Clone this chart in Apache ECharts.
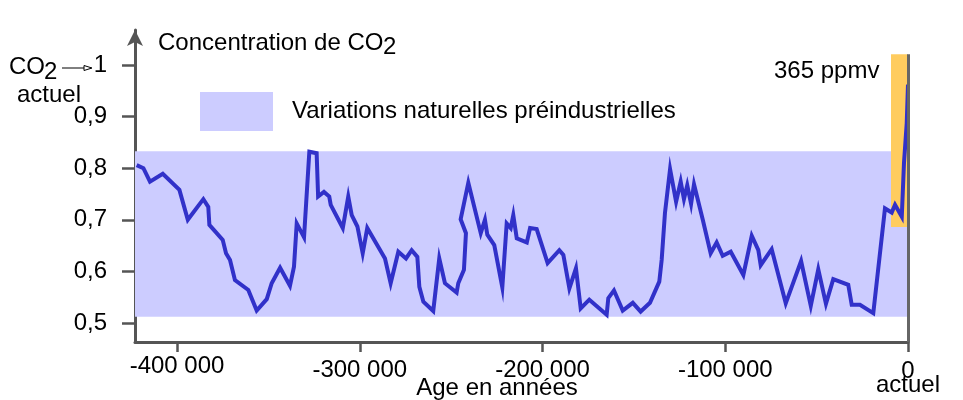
<!DOCTYPE html>
<html>
<head>
<meta charset="utf-8">
<script src="https://cdn.jsdelivr.net/npm/echarts@6/dist/echarts.min.js"></script>
<style>html,body{margin:0;padding:0;background:#fff}#c{width:963px;height:400px}</style>
</head>
<body>
<div id="c"></div>
<script>
// Age (years, negative = before present)
const ages = [
  -422100, -418400, -414800, -407800, -398700, -394100, -385600, -382900, -382300, -375000,
  -373200, -371000, -368300, -361000, -356400, -350900, -348200, -343600, -338200, -336000,
  -334500, -330500, -327600, -323600, -322800, -319600, -316700, -315900, -309300, -306300,
  -304400, -301300, -298400, -295900, -286200, -283100, -278900, -274700, -271600, -268500,
  -267400, -265200, -259800, -256500, -253400, -247000, -246100, -243000, -241900, -244800,
  -240600, -233800, -231500, -230200, -226400, -222000, -219600, -217400, -216000, -214100,
  -208600, -206800, -203200, -197200, -190800, -188600, -185300, -181700, -179100, -174400,
  -164900, -164000, -160900, -156100, -150600, -146300, -141200, -136100, -134800, -133000,
  -130200, -126900, -124400, -122600, -120800, -118700, -117100, -112300, -108000, -104700,
  -101400, -97000, -90100, -85500, -81900, -80600, -74600, -66900, -58500, -53200,
  -49100, -44900, -40900, -32700, -30800, -26300, -19000, -12600, -8900, -7100,
  -3400, -2200, -700, 0
];
// CO2 concentration relative to present-day CO2
const co2 = [
  0.806, 0.800, 0.774, 0.789, 0.758, 0.700, 0.740, 0.725, 0.690, 0.661,
  0.635, 0.622, 0.583, 0.564, 0.524, 0.546, 0.577, 0.607, 0.572, 0.609,
  0.693, 0.666, 0.832, 0.829, 0.745, 0.754, 0.745, 0.729, 0.684, 0.745,
  0.709, 0.687, 0.635, 0.684, 0.625, 0.577, 0.638, 0.625, 0.641, 0.628,
  0.570, 0.541, 0.523, 0.625, 0.577, 0.559, 0.577, 0.603, 0.674, 0.701,
  0.772, 0.674, 0.700, 0.671, 0.651, 0.569, 0.693, 0.684, 0.709, 0.664,
  0.656, 0.684, 0.682, 0.616, 0.641, 0.632, 0.567, 0.606, 0.528, 0.545,
  0.516, 0.548, 0.563, 0.524, 0.539, 0.522, 0.539, 0.580, 0.622, 0.713,
  0.798, 0.735, 0.774, 0.740, 0.767, 0.731, 0.769, 0.700, 0.635, 0.656,
  0.630, 0.638, 0.593, 0.669, 0.641, 0.612, 0.643, 0.538, 0.620, 0.533,
  0.604, 0.537, 0.585, 0.574, 0.535, 0.535, 0.519, 0.722, 0.714, 0.729,
  0.706, 0.810, 0.887, 0.962
];
const xTicks = [-400000, -300000, -200000, -100000, 0];
const yTicks = [0.5, 0.6, 0.7, 0.8, 0.9, 1];
const naturalRange = [0.512, 0.833];           // préindustriel band
const currentRange = { x: [-9300, 0], y: [0.686, 1.021] };
const bandName = 'Variations naturelles préindustrielles';

const FONT = "'Liberation Sans', Arial, sans-serif";
const chart = echarts.init(document.getElementById('c'), null, { renderer: 'canvas' });
const axisCol = '#555';

chart.setOption({
  animation: false,
  backgroundColor: '#fff',
  textStyle: { fontFamily: FONT, color: '#000' },
  grid: { left: 135, right: 55, top: 30, bottom: 58, containLabel: false, outerBoundsMode: 'none' },
  legend: {
    left: 200, top: 92, padding: 0,
    icon: 'rect', itemWidth: 73, itemHeight: 39,
    selectedMode: false,
    data: [bandName],
    textStyle: { fontFamily: FONT, fontSize: 24, color: '#000', padding: [0, 0, 0, 14] }
  },
  xAxis: {
    type: 'value', min: -423000, max: 0,
    splitLine: { show: false },
    axisLine: { show: true, onZero: false, lineStyle: { color: axisCol, width: 3 } },
    axisTick: { show: true, customValues: xTicks, length: 10, lineStyle: { color: axisCol, width: 2.5 } },
    axisLabel: {
      customValues: xTicks, margin: 12, color: '#000', fontFamily: FONT, fontSize: 24,
      formatter: v => v === 0 ? '{z|0}\n{b|actuel}' :
        (v === -400000 ? '{a|' : '{c|') + '-' + (Math.abs(v) / 1000) + ' 000}',
      rich: {
        a: { fontSize: 24, fontFamily: FONT, color: '#000', lineHeight: 24 },
        z: { fontSize: 24, fontFamily: FONT, color: '#000', lineHeight: 20, padding: [14, 0, 0, 0] },
        b: { fontSize: 24, fontFamily: FONT, color: '#000', lineHeight: 22 },
        c: { fontSize: 24, fontFamily: FONT, color: '#000', lineHeight: 24, padding: [8, 0, 0, 0] }
      }
    },
    name: 'Age en années', nameLocation: 'middle', nameGap: 34, nameMoveOverlap: false,
    nameTextStyle: { fontFamily: FONT, fontSize: 24, color: '#000', padding: [0, 49, 0, 0] }
  },
  yAxis: {
    type: 'value', min: 0.463, max: 1.068,
    splitLine: { show: false },
    axisLine: { show: true, onZero: false, symbol: ['none', 'arrow'], symbolSize: [12, 16],
      lineStyle: { color: axisCol, width: 3 } },
    axisTick: { show: true, customValues: yTicks, length: 13, lineStyle: { color: axisCol, width: 2.5 } },
    axisLabel: {
      customValues: yTicks, margin: 28, color: '#000', fontFamily: FONT, fontSize: 24,
      formatter: v => v === 1 ? '1' : v.toFixed(1).replace('.', ',')
    }
  },
  series: [
    {
      name: bandName, type: 'line', data: [],
      itemStyle: { color: '#ccccff' }, lineStyle: { color: '#ccccff' },
      markArea: {
        silent: true,
        itemStyle: { color: '#ccccff' },
        data: [[{ yAxis: naturalRange[0] }, { yAxis: naturalRange[1] }]]
      }
    },
    {
      name: 'CO2', type: 'line',
      data: ages.map((a, i) => [a, co2[i]]),
      showSymbol: false, symbol: 'none',
      lineStyle: { color: '#3131c9', width: 4, join: 'miter' },
      itemStyle: { color: '#3131c9' },
      markArea: {
        silent: true,
        itemStyle: { color: '#ffcc5f' },
        data: [[{ coord: [currentRange.x[0], currentRange.y[0]] }, { coord: [currentRange.x[1], currentRange.y[1]] }]]
      },
      markLine: {
        silent: true, symbol: 'none', label: { show: false },
        lineStyle: { color: '#666', width: 3, type: 'solid' },
        data: [[{ coord: [0, currentRange.y[1]] }, { coord: [0, 0.463] }]]
      },
      z: 3
    }
  ],
  graphic: [
    { type: 'text', style: { text: 'Concentration de CO', x: 158, y: 43, font: '24px ' + FONT, fill: '#000', verticalAlign: 'middle' } },
    { type: 'text', style: { text: '2', x: 383, y: 47, font: '24px ' + FONT, fill: '#000', verticalAlign: 'middle' } },
    { type: 'text', style: { text: 'CO', x: 9, y: 67, font: '24px ' + FONT, fill: '#000', verticalAlign: 'middle' } },
    { type: 'text', style: { text: '2', x: 44, y: 72, font: '24px ' + FONT, fill: '#000', verticalAlign: 'middle' } },
    { type: 'text', style: { text: 'actuel', x: 17, y: 95, font: '24px ' + FONT, fill: '#000', verticalAlign: 'middle' } },
    { type: 'line', shape: { x1: 62, y1: 68, x2: 90, y2: 68 }, style: { stroke: '#000', lineWidth: 1 } },
    { type: 'polygon', shape: { points: [[84, 65.5], [92, 68], [84, 70.5]] }, style: { fill: '#fff', stroke: '#000', lineWidth: 1 } },
    { type: 'text', style: { text: '365 ppmv', x: 774, y: 71, font: '24px ' + FONT, fill: '#000', verticalAlign: 'middle' } }
  ]
});
</script>
</body>
</html>
